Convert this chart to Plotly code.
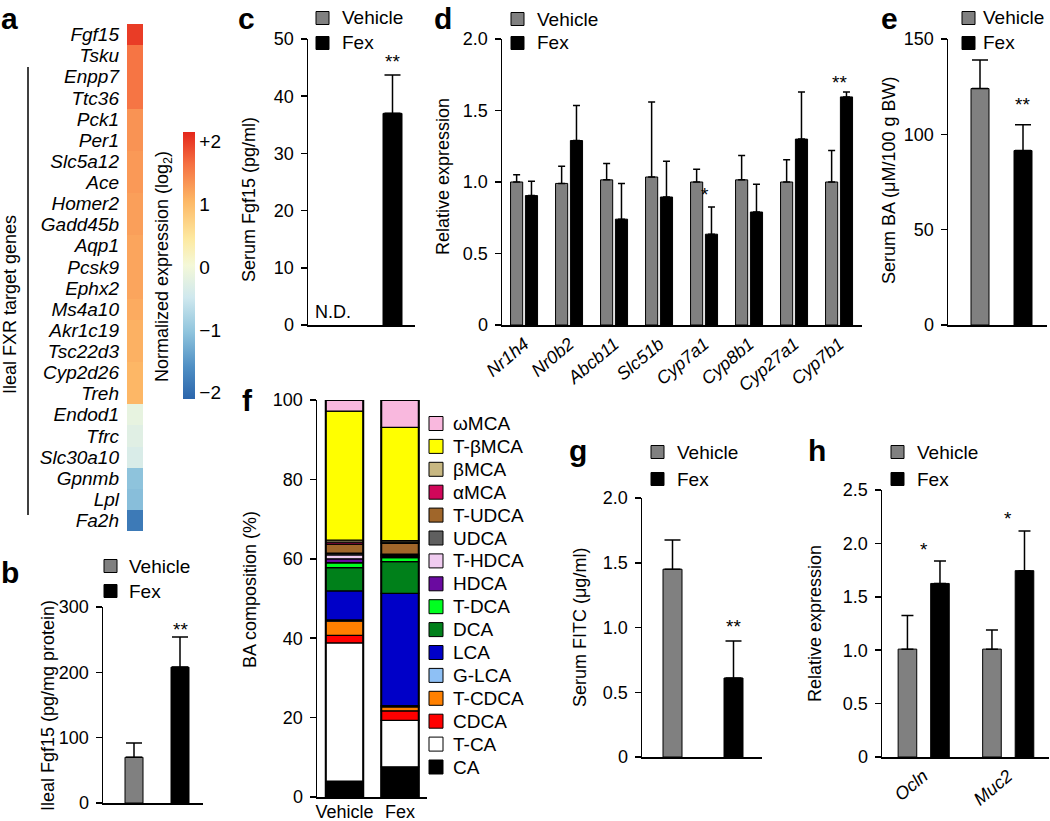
import numpy as np
import plotly.graph_objects as go

W, H = 1050, 821
FONT = "Liberation Sans, Arial, sans-serif"
TICK = 18
LEG = 19

# ---------------- data ----------------
# a: heatmap
genes = ["Fgf15", "Tsku", "Enpp7", "Ttc36", "Pck1", "Per1", "Slc5a12", "Ace",
         "Homer2", "Gadd45b", "Aqp1", "Pcsk9", "Ephx2", "Ms4a10", "Akr1c19",
         "Tsc22d3", "Cyp2d26", "Treh", "Endod1", "Tfrc", "Slc30a10", "Gpnmb",
         "Lpl", "Fa2h"]
expr = [2.0, 1.6, 1.6, 1.6, 1.35, 1.35, 1.3, 1.3, 1.25, 1.25, 1.2, 1.2, 1.2,
        1.15, 1.1, 1.1, 1.05, 1.05, -0.15, -0.25, -0.35, -1.05, -1.1, -1.85]
cbar_vals = [2, 1, 0, -1, -2]
cbar_text = ["+2", "1", "0", "\u22121", "\u22122"]

groups = ["Vehicle", "Fex"]
# b
b_mean = [70, 208]
b_err = [22, 46]
# c
c_mean = [None, 37.0]
c_err = [0, 6.7]
# d
d_genes = ["Nr1h4", "Nr0b2", "Abcb11", "Slc51b", "Cyp7a1", "Cyp8b1", "Cyp27a1", "Cyp7b1"]
d_veh = [1.00, 0.99, 1.015, 1.035, 1.00, 1.015, 1.00, 1.00]
d_veh_err = [0.05, 0.12, 0.115, 0.525, 0.09, 0.17, 0.155, 0.22]
d_fex = [0.905, 1.29, 0.74, 0.895, 0.635, 0.79, 1.30, 1.595]
d_fex_err = [0.10, 0.245, 0.25, 0.25, 0.19, 0.195, 0.33, 0.035]
# e
e_mean = [124, 91.5]
e_err = [15, 13.5]
# f
ba_names = ["CA", "T-CA", "CDCA", "T-CDCA", "G-LCA", "LCA", "DCA", "T-DCA",
            "HDCA", "T-HDCA", "UDCA", "T-UDCA", "\u03b1MCA", "\u03b2MCA",
            "T-\u03b2MCA", "\u03c9MCA"]
ba_colors = ["#000000", "#ffffff", "#ff0000", "#ff8000", "#8ec0f5", "#0000c8",
             "#00801a", "#00ff20", "#6a0aa0", "#f0ccf0", "#5f5f5f", "#a0662a",
             "#d1075a", "#c8b882", "#ffff00", "#f9b8de"]
ba_vehicle = [4.0, 34.8, 1.9, 3.6, 0.3, 7.3, 5.9, 1.2, 1.0, 1.0, 0.4, 2.3, 0.5, 0.5, 32.5, 2.8]
ba_fex = [7.6, 11.7, 2.4, 1.0, 0.3, 28.3, 8.0, 1.0, 0.3, 0.3, 0.3, 2.7, 0.3, 0.4, 28.5, 6.9]
# g
g_mean = [1.45, 0.61]
g_err = [0.225, 0.285]
# h
h_genes = ["Ocln", "Muc2"]
h_veh = [1.01, 1.01]
h_veh_err = [0.315, 0.18]
h_fex = [1.625, 1.745]
h_fex_err = [0.21, 0.37]

# significance marks: (axis suffix, x, y, text)
stars = [("2", 1, 272, "**"), ("3", 1, 46.7, "**"),
         ("4", "Cyp7a1", 0.944, "*"), ("4", "Cyp7b1", 1.727, "**"),
         ("5", 1, 118, "**"), ("7", 1, 1.035, "**"),
         ("8", "Ocln", 1.985, "*"), ("8", "Muc2", 2.266, "*")]

VEH_COLOR = "#808080"
FEX_COLOR = "#000000"

# ---------------- helpers ----------------
def px(x):
    return x / W

def py(y):
    return 1 - y / H

def xrange_for(L, R, c0, c1):
    s = c1 - c0
    return [(L - c0) / s, (R - c0) / s], s

fig = go.Figure()

# ---------------- panel a ----------------
cscale = [[0.0, "#2b65ab"], [0.12, "#4f8fc4"], [0.25, "#8fc4dd"], [0.38, "#cfe8ee"],
          [0.5, "#f4f8d8"], [0.6, "#fde9a0"], [0.74, "#fdb866"], [0.88, "#f57042"],
          [1.0, "#e4261b"]]
fig.add_trace(go.Heatmap(
    z=[[v] for v in expr], x=["c"], y=genes, xaxis="x", yaxis="y",
    colorscale=cscale, zmin=-2.1, zmax=2.15, hoverinfo="skip",
    colorbar=dict(x=px(183), xanchor="left", y=py(265.5), yanchor="middle",
                  thickness=12, thicknessmode="pixels", len=267, lenmode="pixels",
                  xpad=0, ypad=0, outlinewidth=0, ticks="",
                  tickvals=cbar_vals, ticktext=cbar_text,
                  tickfont=dict(family=FONT, size=LEG, color="black"))))

axis_common = dict(showgrid=False, zeroline=False, showline=True, linecolor="black",
                   linewidth=1.5, automargin=False)
yax_common = dict(axis_common, ticks="outside", ticklen=6, tickwidth=1.5, tickcolor="black",
                  tickfont=dict(family=FONT, size=TICK, color="black"), ticklabelstandoff=3)

layout = dict(
    xaxis=dict(domain=[px(127), px(143)], anchor="y", visible=False, automargin=False),
    yaxis=dict(domain=[py(531), py(24)], anchor="x", autorange="reversed",
               showgrid=False, zeroline=False, showline=False, ticks="", automargin=False,
               tickmode="array", tickvals=genes, ticktext=genes,
               tickfont=dict(family=FONT, size=LEG, color="black", style="italic"),
               ticklabelstandoff=7),
)

# ---------------- simple two-bar panels ----------------
def two_bar(suffix, means, errs, L, R, T, B, c0, c1, bw, ymax, tickvals, ticktext, cap=8):
    rng, s = xrange_for(L, R, c0, c1)
    for i, (m, e, col) in enumerate(zip(means, errs, [VEH_COLOR, FEX_COLOR])):
        fig.add_trace(go.Bar(
            x=[i], y=[m], width=bw / s, xaxis="x" + suffix, yaxis="y" + suffix,
            marker=dict(color=col, line=dict(color="black", width=1)),
            error_y=dict(type="data", array=[e], arrayminus=[0], symmetric=False,
                         color="black", thickness=1.5, width=cap),
            showlegend=False, hoverinfo="skip"))
    layout["xaxis" + suffix] = dict(axis_common, domain=[px(L), px(R)], range=rng,
                                    anchor="y" + suffix, showticklabels=False, ticks="")
    layout["yaxis" + suffix] = dict(yax_common, domain=[py(B), py(T)], range=[0, ymax],
                                    anchor="x" + suffix, tickvals=tickvals, ticktext=ticktext)

two_bar("2", b_mean, b_err, 103, 203, 607, 803, 134, 180, 18, 300,
        [0, 100, 200, 300], ["0", "100", "200", "300"])
two_bar("3", c_mean, c_err, 308, 415, 39, 325, 333, 392.5, 19, 50,
        [0, 10, 20, 30, 40, 50], ["0", "10", "20", "30", "40", "50"])
two_bar("5", e_mean, e_err, 948, 1047, 39, 325, 980, 1023, 18, 150,
        [0, 50, 100, 150], ["0", "50", "100", "150"])
two_bar("7", g_mean, g_err, 642, 762, 498, 757, 672.5, 733.5, 19, 2.0,
        [0, 0.5, 1, 1.5, 2], ["0", "0.5", "1.0", "1.5", "2.0"])

# ---------------- grouped panels d, h ----------------
def grouped(suffix, cats, veh, veh_err, fex, fex_err, L, R, T, B, rng, width,
            off_v, off_f, ymax, tickvals, ticktext, cap):
    for vals, errs, col, off in [(veh, veh_err, VEH_COLOR, off_v), (fex, fex_err, FEX_COLOR, off_f)]:
        fig.add_trace(go.Bar(
            x=cats, y=vals, width=width, offset=off, xaxis="x" + suffix, yaxis="y" + suffix,
            marker=dict(color=col, line=dict(color="black", width=1)),
            error_y=dict(type="data", array=errs, arrayminus=[0] * len(errs), symmetric=False,
                         color="black", thickness=1.5, width=cap),
            showlegend=False, hoverinfo="skip"))
    layout["xaxis" + suffix] = dict(axis_common, domain=[px(L), px(R)], range=rng,
                                    anchor="y" + suffix, type="category", ticks="",
                                    tickangle=-40,
                                    tickfont=dict(family=FONT, size=TICK, color="black", style="italic"))
    layout["yaxis" + suffix] = dict(yax_common, domain=[py(B), py(T)], range=[0, ymax],
                                    anchor="x" + suffix, tickvals=tickvals, ticktext=ticktext)

grouped("4", d_genes, d_veh, d_veh_err, d_fex, d_fex_err, 502, 862, 39, 325,
        [-0.5, 7.5], 0.27, -0.31, 0.02, 2.0,
        [0, 0.5, 1, 1.5, 2], ["0", "0.5", "1.0", "1.5", "2.0"], 3.5)
grouped("8", h_genes, h_veh, h_veh_err, h_fex, h_fex_err, 882, 1049, 490, 757,
        [-0.491, 1.485], 0.22, -0.30, 0.085, 2.5,
        [0, 0.5, 1, 1.5, 2, 2.5], ["0", "0.5", "1.0", "1.5", "2.0", "2.5"], 6)

# ---------------- panel f (stacked) ----------------
rng_f, s_f = xrange_for(317, 427, 344.5, 400)
bw_f = 37.5 / s_f
cum_v = np.concatenate([[0], np.cumsum(ba_vehicle)[:-1]])
cum_f = np.concatenate([[0], np.cumsum(ba_fex)[:-1]])
for i, name in enumerate(ba_names):
    fig.add_trace(go.Bar(
        x=[0, 1], y=[ba_vehicle[i], ba_fex[i]], base=[cum_v[i], cum_f[i]], width=bw_f,
        xaxis="x6", yaxis="y6", marker=dict(color=ba_colors[i], line=dict(color="black", width=1.3)),
        showlegend=False, hoverinfo="skip", name=name))
fig.add_trace(go.Bar(
    x=[0, 1], y=[sum(ba_vehicle), sum(ba_fex)], width=bw_f, xaxis="x6", yaxis="y6",
    marker=dict(color="rgba(0,0,0,0)", line=dict(color="black", width=2)),
    showlegend=False, hoverinfo="skip"))
layout["xaxis6"] = dict(axis_common, domain=[px(317), px(427)], range=rng_f, anchor="y6",
                        ticks="", tickvals=[0, 1], ticktext=groups, ticklabelstandoff=-2,
                        tickfont=dict(family=FONT, size=TICK, color="black"))
layout["yaxis6"] = dict(yax_common, domain=[py(797), py(400)], range=[0, 100], anchor="x6",
                        tickvals=[0, 20, 40, 60, 80, 100],
                        ticktext=["0", "20", "40", "60", "80", "100"])

# ---------------- annotations & shapes ----------------
ann = []
shapes = []

def text(x, y, t, size=TICK, angle=0, xanchor="center", yanchor="middle", bold=False, italic=False):
    ann.append(dict(x=px(x), y=py(y), xref="paper", yref="paper", text=t, showarrow=False,
                    textangle=angle, xanchor=xanchor, yanchor=yanchor,
                    font=dict(family=FONT, size=size, color="black",
                              weight="bold" if bold else "normal",
                              style="italic" if italic else "normal")))

# panel letters (top row anchored to the top edge)
for lt, x in [("a", 9), ("c", 246), ("d", 443), ("e", 889)]:
    text(x, 0, lt, size=30, bold=True, yanchor="top")
for lt, x, y in [("b", 10, 572), ("f", 247, 400), ("g", 578, 450), ("h", 817, 450)]:
    text(x, y, lt, size=30, bold=True)

# axis titles
text(163, 267, "Normalized expression (log<sub>2</sub>)", angle=-90)
text(10, 305, "Ileal FXR target genes", angle=-90)
text(48, 706, "Ileal Fgf15 (pg/mg protein)", angle=-90)
text(249, 200, "Serum Fgf15 (pg/ml)", angle=-90)
text(443, 177, "Relative expression", angle=-90)
text(889, 181, "Serum BA (\u03bcM/100 g BW)", angle=-90)
text(250, 590, "BA composition (%)", angle=-90)
text(580, 628, "Serum FITC (\u03bcg/ml)", angle=-90)
text(815, 624, "Relative expression", angle=-90)

# bracket for FXR target genes
shapes.append(dict(type="line", xref="paper", yref="paper", x0=px(28), x1=px(28),
                   y0=py(67), y1=py(515), line=dict(color="black", width=1.5)))

# legends (Vehicle / Fex)
def legend2(sx, y1, y2, tx):
    for yy, col, lab in [(y1, VEH_COLOR, groups[0]), (y2, FEX_COLOR, groups[1])]:
        shapes.append(dict(type="rect", xref="paper", yref="paper", x0=px(sx), x1=px(sx + 13),
                           y0=py(yy + 6.5), y1=py(yy - 6.5), fillcolor=col,
                           line=dict(color="black", width=1)))
        text(tx, yy, lab, size=LEG, xanchor="left")

legend2(104, 566, 591, 127)
legend2(316, 18, 43, 340)
legend2(511, 19, 43, 535)
legend2(962, 18, 43, 981)
legend2(651, 452, 479, 675)
legend2(891, 452, 479, 915)

# legend f
for k, i in enumerate(range(len(ba_names) - 1, -1, -1)):
    yy = 423.5 + k * 22.9
    shapes.append(dict(type="rect", xref="paper", yref="paper", x0=px(429), x1=px(443),
                       y0=py(yy + 7), y1=py(yy - 7), fillcolor=ba_colors[i],
                       line=dict(color="black", width=1)))
    text(451, yy, ba_names[i], size=LEG, xanchor="left")

# significance stars
for suf, x, y, t in stars:
    ann.append(dict(x=x, y=y, xref="x" + suf, yref="y" + suf, text=t, showarrow=False,
                    xanchor="center", yanchor="middle", yshift=-4,
                    font=dict(family=FONT, size=19, color="black")))

# N.D. in panel c
ann.append(dict(x=0, y=0, xref="x3", yref="y3", text="N.D.", showarrow=False,
                xanchor="center", yanchor="bottom", yshift=1,
                font=dict(family=FONT, size=TICK, color="black")))

fig.update_layout(**layout)
fig.update_layout(
    width=W, height=H, margin=dict(l=0, r=0, t=0, b=0, autoexpand=False),
    paper_bgcolor="white", plot_bgcolor="white", barmode="overlay", showlegend=False,
    font=dict(family=FONT, size=TICK, color="black"),
    annotations=ann, shapes=shapes)

fig.write_html("out.html", config={"displayModeBar": False, "staticPlot": True},
               post_script="document.body.style.margin='0px';document.body.style.overflow='hidden';")
